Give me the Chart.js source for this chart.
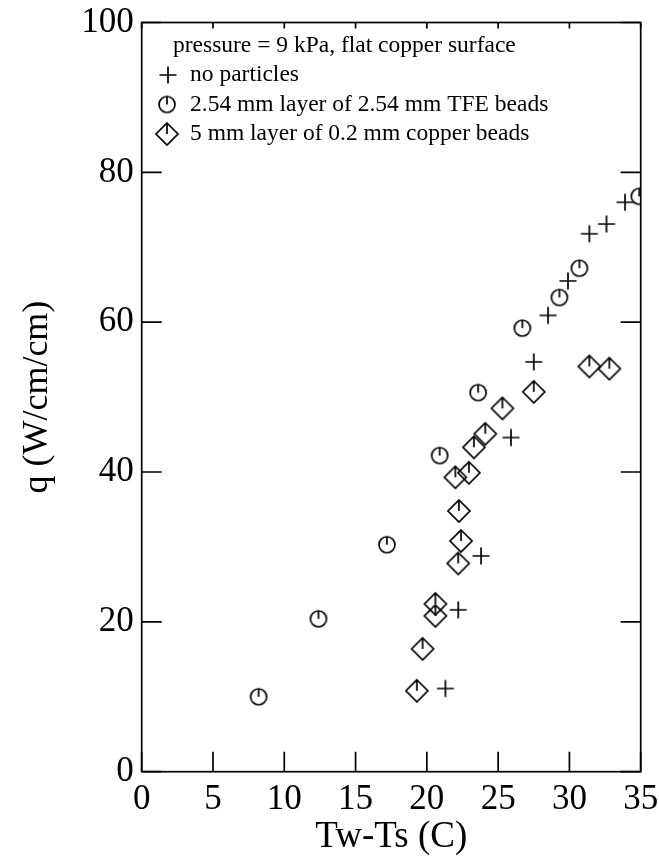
<!DOCTYPE html>
<html><head><meta charset="utf-8">
<script src="https://cdn.jsdelivr.net/npm/chart.js@4.4.1/dist/chart.umd.min.js"></script>
<style>html,body{margin:0;padding:0;background:#fff;overflow:hidden}#wrap{width:659px;height:857px;position:relative}</style>
</head><body><div id="wrap"><canvas id="c"></canvas></div>
<script>
const xTicks = [0, 5, 10, 15, 20, 25, 30, 35];
const yTicks = [0, 20, 40, 60, 80, 100];
const noParticlesX = [21.3, 22.2, 23.8, 25.9, 27.5, 28.5, 29.9, 31.4, 32.6, 33.9];
const noParticlesY = [11.1, 21.6, 28.8, 44.6, 54.7, 60.9, 65.5, 71.8, 73.1, 76.0];
const tfeX = [8.2, 12.4, 17.2, 20.9, 23.6, 26.7, 29.3, 30.7, 34.9];
const tfeY = [10.0, 20.4, 30.3, 42.2, 50.6, 59.2, 63.3, 67.2, 76.8];
const copperX = [19.3, 19.7, 20.6, 20.6, 22.2, 22.4, 22.25, 22.0, 22.95, 23.3, 24.1, 25.3, 27.5, 31.4, 32.8];
const copperY = [10.8, 16.4, 20.8, 22.4, 27.8, 30.8, 34.8, 39.3, 39.9, 43.3, 45.1, 48.5, 50.7, 54.1, 53.8];
const legendTitle = 'pressure = 9 kPa, flat copper surface';
const seriesNames = ['no particles', '2.54 mm layer of 2.54 mm TFE beads', '5 mm layer of 0.2 mm copper beads'];
const xTitle = 'Tw-Ts (C)';
const yTitle = 'q (W/cm/cm)';

const FONT = "'Liberation Serif', 'Times New Roman', serif";

function makeSym(kind) {
  const s = 26, c = document.createElement('canvas');
  c.width = s; c.height = s;
  const g = c.getContext('2d');
  g.strokeStyle = '#000'; g.lineWidth = 1.7; g.lineCap = 'butt';
  const m = s / 2;
  g.beginPath();
  if (kind === 'plus') {
    g.moveTo(m - 8.5, m); g.lineTo(m + 8.5, m);
    g.moveTo(m, m - 8.5); g.lineTo(m, m + 8.5);
  } else if (kind === 'circle') {
    g.arc(m, m, 8, 0, Math.PI * 2);
    g.moveTo(m, m); g.lineTo(m, m - 8);
  } else {
    g.moveTo(m, m - 11); g.lineTo(m + 11, m); g.lineTo(m, m + 11); g.lineTo(m - 11, m); g.closePath();
    g.moveTo(m, m); g.lineTo(m, m - 11);
  }
  g.stroke();
  return c;
}
const syms = [makeSym('plus'), makeSym('circle'), makeSym('diamond')];

function pts(xs, ys) { return xs.map((x, i) => ({ x: x, y: ys[i] })); }

const framePlugin = {
  id: 'frame',
  afterDraw(chart) {
    const { ctx, chartArea: a, scales } = chart;
    ctx.save();
    ctx.strokeStyle = '#000'; ctx.lineWidth = 1.7;
    ctx.strokeRect(a.left, a.top, a.right - a.left, a.bottom - a.top);
    ctx.beginPath();
    xTicks.forEach(v => {
      const px = scales.x.getPixelForValue(v);
      ctx.moveTo(px, a.bottom); ctx.lineTo(px, a.bottom - 20);
      ctx.moveTo(px, a.top); ctx.lineTo(px, a.top + 6);
    });
    yTicks.forEach(v => {
      const py = scales.y.getPixelForValue(v);
      ctx.moveTo(a.left, py); ctx.lineTo(a.left + 20, py);
      ctx.moveTo(a.right, py); ctx.lineTo(a.right - 20, py);
    });
    ctx.stroke();
    // legend
    ctx.fillStyle = '#000';
    ctx.font = '23.5px ' + FONT;
    ctx.textBaseline = 'middle';
    ctx.textAlign = 'left';
    ctx.fillText(legendTitle, 173, 45.5);
    const ys = [75, 104.5, 134];
    seriesNames.forEach((n, i) => {
      const sx = i === 0 ? 168 : 167;
      ctx.drawImage(syms[i], sx - 13, ys[i] - 13);
      ctx.fillText(n, 190, ys[i]);
    });
    ctx.restore();
  }
};

new Chart(document.getElementById('c'), {
  type: 'scatter',
  data: {
    datasets: [
      { label: seriesNames[0], data: pts(noParticlesX, noParticlesY), pointStyle: syms[0], pointRadius: 10 },
      { label: seriesNames[1], data: pts(tfeX, tfeY), pointStyle: syms[1], pointRadius: 10 },
      { label: seriesNames[2], data: pts(copperX, copperY), pointStyle: syms[2], pointRadius: 10 }
    ]
  },
  options: {
    responsive: true, maintainAspectRatio: false, animation: false,
    layout: { padding: { left: 0, right: 18.3, top: 22.5, bottom: 0 } },
    plugins: { legend: { display: false }, tooltip: { enabled: false } },
    scales: {
      x: {
        type: 'linear', min: 0, max: 35,
        afterBuildTicks(s) { s.ticks = xTicks.map(v => ({ value: v })); },
        afterFit(s) { s.height = 85.3; s.paddingLeft = 0; s.paddingRight = 0; },
        grid: { display: false, drawTicks: false },
        border: { display: false },
        ticks: { color: '#000', font: { family: FONT, size: 35 }, padding: 7, maxRotation: 0 },
        title: { display: true, text: xTitle, color: '#000', font: { family: FONT, size: 37 }, padding: { top: 0, bottom: -2 } }
      },
      y: {
        type: 'linear', min: 0, max: 100,
        afterBuildTicks(s) { s.ticks = yTicks.map(v => ({ value: v })); },
        afterFit(s) { s.width = 141.7; s.paddingTop = 0; s.paddingBottom = 0; },
        grid: { display: false, drawTicks: false },
        border: { display: false },
        ticks: { color: '#000', font: { family: FONT, size: 35 }, padding: 8 },
        title: { display: true, text: yTitle, color: '#000', font: { family: FONT, size: 36 }, padding: { top: 16, bottom: 0 } }
      }
    }
  },
  plugins: [framePlugin]
});
</script></body></html>
